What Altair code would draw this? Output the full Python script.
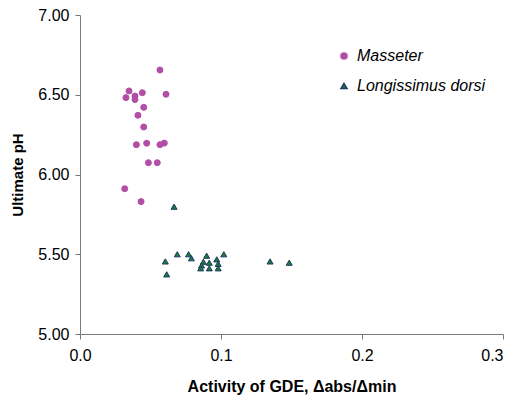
import altair as alt
import pandas as pd

# Masseter
mas_x = [0.0567, 0.0348, 0.0326, 0.0390, 0.0390, 0.0442, 0.0610, 0.0452, 0.0411,
         0.0452, 0.0400, 0.0473, 0.0567, 0.0598, 0.0485, 0.0548, 0.0317, 0.0433]
mas_y = [6.655, 6.524, 6.482, 6.492, 6.470, 6.513, 6.503, 6.421, 6.371,
         6.298, 6.187, 6.196, 6.187, 6.197, 6.074, 6.074, 5.911, 5.830]
# Longissimus dorsi
ld_x = [0.0667, 0.0605, 0.0615, 0.0690, 0.0770, 0.0790, 0.0898, 0.0875, 0.0862,
        0.0856, 0.0917, 0.0917, 0.0970, 0.0980, 0.0980, 0.1020, 0.1348, 0.1484]
ld_y = [5.798, 5.455, 5.374, 5.500, 5.500, 5.475, 5.491, 5.453, 5.430,
        5.412, 5.447, 5.412, 5.468, 5.440, 5.412, 5.500, 5.455, 5.447]

series = ["Masseter", "Longissimus dorsi"]

df = pd.concat([
    pd.DataFrame({"x": mas_x, "y": mas_y, "s": series[0]}),
    pd.DataFrame({"x": ld_x, "y": ld_y, "s": series[1]}),
])

FONT = "Liberation Sans"

legend = alt.Legend(
    title=None, orient="none", legendX=256, legendY=33,
    labelFontStyle="italic", labelFont=FONT, labelFontSize=16, labelColor="#000000",
    rowPadding=14, labelOffset=5, symbolSize=36, padding=0,
)

chart = alt.Chart(df).mark_point(filled=True, strokeWidth=1, opacity=1).encode(
    x=alt.X("x:Q", scale=alt.Scale(domain=[0, 0.3], nice=False),
            axis=alt.Axis(title="Activity of GDE, Δabs/Δmin", values=[0, 0.1, 0.2, 0.3],
                          format=".1f", grid=False,
                          labelAlign=alt.expr("datum.value >= 0.3 ? 'right' : 'center'"))),
    y=alt.Y("y:Q", scale=alt.Scale(domain=[5, 7], nice=False, zero=False),
            axis=alt.Axis(title="Ultimate pH", values=[5, 5.5, 6, 6.5, 7],
                          format=".2f", grid=False)),
    shape=alt.Shape("s:N", scale=alt.Scale(domain=series, range=["circle", "triangle-up"]),
                    legend=legend),
    fill=alt.Fill("s:N", scale=alt.Scale(domain=series, range=["#B24EA6", "#1E7A3A"]),
                  legend=legend),
    stroke=alt.Stroke("s:N", scale=alt.Scale(domain=series, range=["#B24EA6", "#1B3A66"]),
                      legend=legend),
    size=alt.value(36),
).properties(
    width=423, height=319,
    autosize=alt.AutoSizeParams(type="none"),
    padding={"left": 72, "top": 7, "right": 6, "bottom": 64},
).configure_view(
    stroke=None
).configure_axis(
    domainColor="#7a7a7a", tickColor="#7a7a7a", tickSize=5,
    labelFont=FONT, labelFontSize=16, labelColor="#000000",
    titleFont=FONT, titleFontSize=16, titleFontWeight="bold", titleColor="#000000",
).configure_axisX(
    labelPadding=8, titlePadding=15,
).configure_axisY(
    labelPadding=6, titlePadding=12, titleFontSize=15,
)

chart.save("out.html", embed_options={"renderer": "svg", "actions": False})
